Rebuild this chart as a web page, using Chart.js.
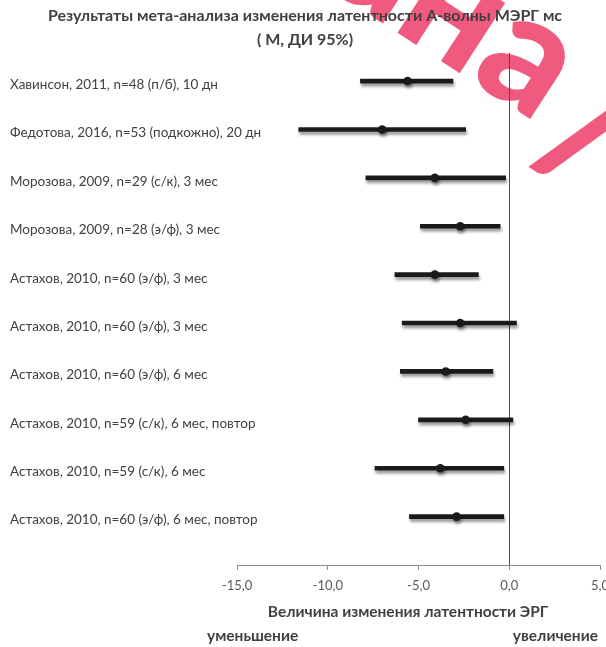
<!DOCTYPE html>
<html>
<head>
<meta charset="utf-8">
<script src="https://cdn.jsdelivr.net/npm/chart.js@4/dist/chart.umd.min.js"></script>
<style>
  html, body { margin: 0; padding: 0; background: #ffffff; }
  #wrap { width: 606px; height: 647px; position: relative; }
</style>
</head>
<body>
<div id="wrap"><canvas id="forest" width="606" height="647"></canvas></div>
<script>
// Studies, top to bottom
const studies = [
  'Хавинсон, 2011, n=48 (п/б), 10 дн',
  'Федотова, 2016, n=53 (подкожно), 20 дн',
  'Морозова, 2009, n=29 (с/к), 3 мес',
  'Морозова, 2009, n=28 (э/ф), 3 мес',
  'Астахов, 2010, n=60 (э/ф), 3 мес',
  'Астахов, 2010, n=60 (э/ф), 3 мес',
  'Астахов, 2010, n=60 (э/ф), 6 мес',
  'Астахов, 2010, n=59 (с/к), 6 мес, повтор',
  'Астахов, 2010, n=59 (с/к), 6 мес',
  'Астахов, 2010, n=60 (э/ф), 6 мес, повтор'
];
// Mean change of A-wave latency, ms, with 95% CI bounds
const means = [-5.6, -7.0, -4.1, -2.7, -4.1, -2.7, -3.5, -2.4, -3.8, -2.9];
const lower = [-8.2, -11.6, -7.9, -4.9, -6.3, -5.9, -6.0, -5.0, -7.4, -5.5];
const upper = [-3.1, -2.4, -0.2, -0.5, -1.7, 0.4, -0.9, 0.2, -0.3, -0.3];
const xTicks = [-15, -10, -5, 0, 5];

const titleLines = ['Результаты мета-анализа изменения латентности А-волны МЭРГ мс', '( М, ДИ 95%)'];
const axisTitle = 'Величина изменения латентности ЭРГ';
const directionLabels = ['уменьшение', 'увеличение'];
const stampWord = 'ана';
const stampSlash = '/';

const FONT = 'Lato, "Open Sans", sans-serif';
const rowValue = i => studies.length - i;

// Pink stamp lying underneath the chart
const stamp = {
  id: 'stamp',
  beforeDraw(chart) {
    const ctx = chart.ctx;
    const angle = 33 * Math.PI / 180;
    ctx.save();
    ctx.font = '900 162px Lato, Roboto, sans-serif';
    ctx.fillStyle = '#f05a7e';
    ctx.textBaseline = 'alphabetic';
    // word, anchored on the centre of its last letter
    ctx.save();
    ctx.translate(522, 66);
    ctx.rotate(angle);
    ctx.textAlign = 'right';
    ctx.fillText(stampWord, 44, 40);
    ctx.restore();
    // slash
    ctx.save();
    ctx.translate(586, 140);
    ctx.rotate(angle);
    ctx.textAlign = 'center';
    ctx.fillText(stampSlash, 0, 46);
    ctx.restore();
    ctx.restore();
  }
};

// Soft drop shadow under the interval bars and points
const shadow = {
  id: 'shadow',
  beforeDatasetsDraw(chart) {
    const ctx = chart.ctx;
    ctx.save();
    ctx.shadowColor = 'rgba(0,0,0,0.4)';
    ctx.shadowBlur = 3;
    ctx.shadowOffsetX = 1;
    ctx.shadowOffsetY = 3;
  },
  afterDatasetsDraw(chart) {
    chart.ctx.restore();
  }
};

// Let the long study names run past the plot's left edge
const wideLabels = {
  id: 'wideLabels',
  afterLayout(chart) {
    chart.scales.y.right = chart.width;
  }
};

// Axis caption and direction hints under the x axis
const bottomText = {
  id: 'bottomText',
  afterDraw(chart) {
    const ctx = chart.ctx;
    ctx.save();
    ctx.fillStyle = '#404040';
    ctx.font = 'bold 15.5px ' + FONT;
    ctx.textBaseline = 'middle';
    ctx.textAlign = 'center';
    ctx.fillText(axisTitle, 408, 612);
    ctx.textAlign = 'left';
    ctx.fillText(directionLabels[0], 207, 636);
    ctx.textAlign = 'right';
    ctx.fillText(directionLabels[1], 598, 636);
    ctx.restore();
  }
};

new Chart(document.getElementById('forest'), {
  type: 'scatter',
  data: {
    datasets: [
      {
        type: 'scatter',
        label: 'M',
        data: means.map((m, i) => ({ x: m, y: rowValue(i) })),
        pointRadius: 4.3,
        pointHoverRadius: 4.3,
        backgroundColor: '#1a1a1a',
        borderWidth: 0,
        order: 0
      },
      {
        type: 'bar',
        label: 'ДИ 95%',
        indexAxis: 'y',
        data: studies.map((s, i) => ({ x: [lower[i], upper[i]], y: rowValue(i) })),
        backgroundColor: '#1a1a1a',
        borderWidth: 0,
        barThickness: 4,
        order: 1
      }
    ]
  },
  options: {
    responsive: false,
    animation: false,
    events: [],
    layout: { padding: { left: 10, right: 6, top: 0, bottom: 0 } },
    plugins: {
      legend: { display: false },
      tooltip: { enabled: false },
      title: {
        display: true,
        text: titleLines,
        color: '#404040',
        font: { family: FONT, size: 16, weight: 'bold', lineHeight: 1.5 },
        padding: { top: 4, bottom: 1 }
      }
    },
    scales: {
      x: {
        type: 'linear',
        min: -15,
        max: 5,
        offset: false,
        afterBuildTicks: scale => { scale.ticks = xTicks.map(v => ({ value: v })); },
        afterFit: scale => { scale.paddingLeft = 0; scale.paddingRight = 0; scale.height = 82; },
        ticks: {
          color: '#595959',
          font: { family: FONT, size: 13 },
          padding: 8,
          maxRotation: 0,
          autoSkip: false,
          callback: v => Number(v).toFixed(1).replace('.', ',')
        },
        grid: {
          offset: false,
          drawOnChartArea: true,
          drawTicks: true,
          tickLength: 5,
          color: ctx => (ctx.tick && ctx.tick.value === 0) ? '#4d4d4d' : 'rgba(0,0,0,0)',
          tickColor: '#8c8c8c',
          lineWidth: 1
        },
        border: { display: true, color: '#8c8c8c', width: 1 }
      },
      y: {
        type: 'linear',
        min: 0,
        max: 10.58,
        offset: false,
        afterBuildTicks: scale => { scale.ticks = studies.map((s, i) => ({ value: rowValue(i) })); },
        afterFit: scale => { scale.width = 227; scale.paddingTop = 0; scale.paddingBottom = 0; },
        ticks: {
          color: '#404040',
          font: { family: FONT, size: 13.5 },
          crossAlign: 'far',
          padding: 0,
          labelOffset: 3.5,
          autoSkip: false,
          callback: v => studies[studies.length - v]
        },
        grid: { display: false },
        border: { display: false }
      }
    }
  },
  plugins: [stamp, shadow, wideLabels, bottomText]
});
</script>
</body>
</html>
